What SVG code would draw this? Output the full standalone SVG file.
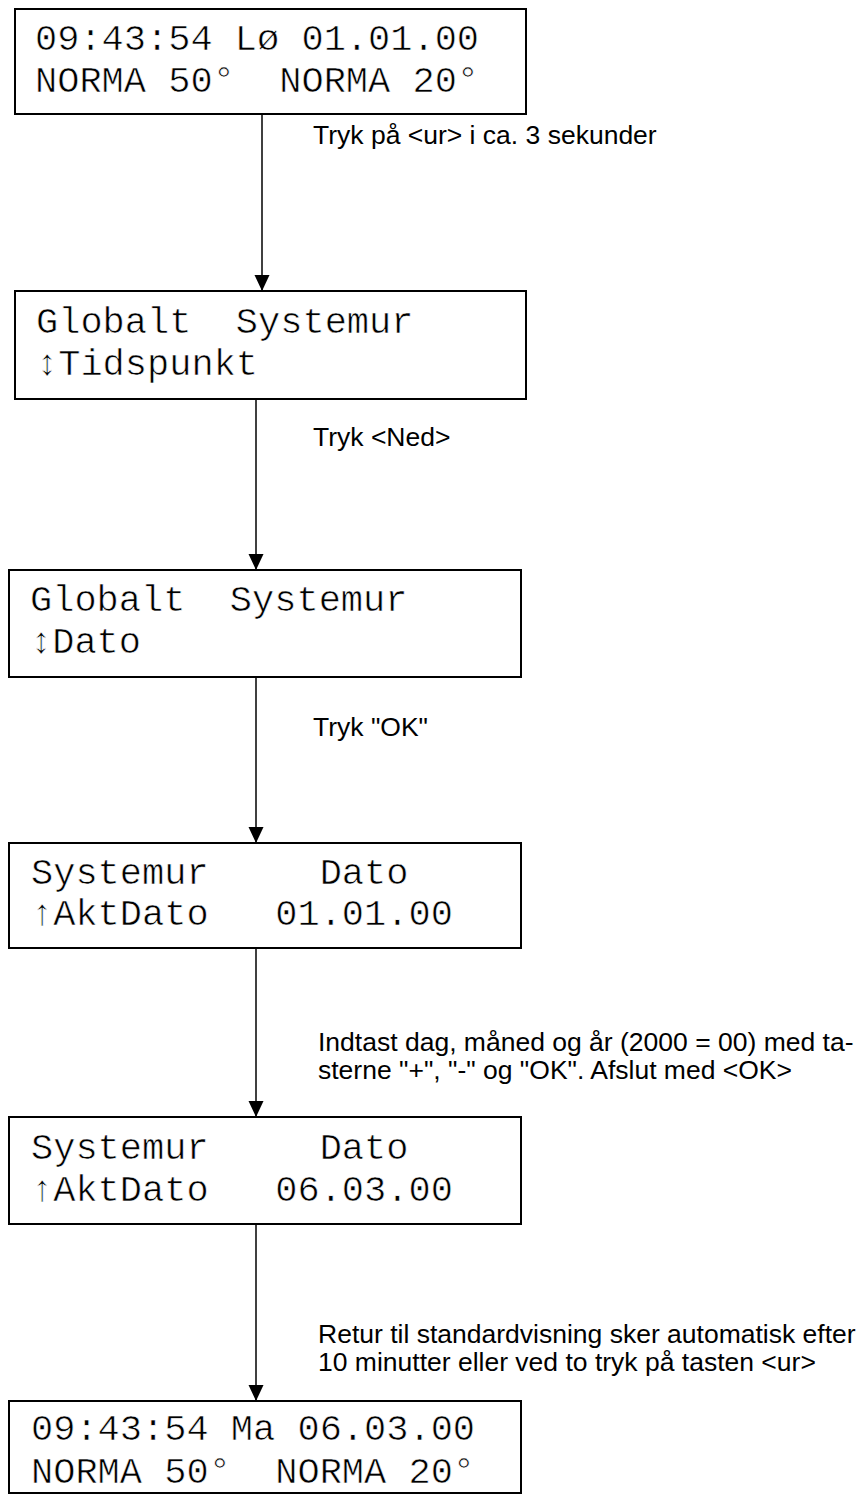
<svg xmlns="http://www.w3.org/2000/svg" width="868" height="1494" viewBox="0 0 868 1494">
  <style>
    .box { fill: #ffffff; stroke: #000000; stroke-width: 2; }
    .lcd { font-family: "Liberation Mono", "Courier New", monospace; font-size: 37px; fill: #000000; white-space: pre; stroke: #ffffff; stroke-width: 0.6; paint-order: fill; }
    .wire { stroke: #000000; stroke-width: 1.5; fill: none; }
    .note { font-family: "Liberation Sans", Arial, sans-serif; font-size: 26.5px; fill: #000000; }
  </style>
  <defs>
    <marker id="tip" viewBox="0 0 16 16" refX="16" refY="8" markerWidth="16" markerHeight="16" markerUnits="userSpaceOnUse" orient="auto">
      <path d="M0,0.5 L16,8 L0,15.5 Z" fill="#000000"/>
    </marker>
  </defs>
  <rect width="868" height="1494" fill="#ffffff"/>

  <!-- connectors and their captions -->
  <g id="connectors">
    <line class="wire" x1="262" y1="114" x2="262" y2="291" marker-end="url(#tip)"/>
    <line class="wire" x1="256" y1="399" x2="256" y2="570" marker-end="url(#tip)"/>
    <line class="wire" x1="256" y1="677" x2="256" y2="843" marker-end="url(#tip)"/>
    <line class="wire" x1="256" y1="948" x2="256" y2="1117" marker-end="url(#tip)"/>
    <line class="wire" x1="256" y1="1224" x2="256" y2="1401" marker-end="url(#tip)"/>
    <text class="note" x="313" y="144">Tryk på &lt;ur&gt; i ca. 3 sekunder</text>
    <text class="note" x="313" y="446">Tryk &lt;Ned&gt;</text>
    <text class="note" x="313" y="736">Tryk "OK"</text>
    <text class="note" x="318" y="1051"><tspan x="318">Indtast dag, måned og år (2000 = 00) med ta-</tspan><tspan x="318" dy="27.5">sterne "+", "-" og "OK". Afslut med &lt;OK&gt;</tspan></text>
    <text class="note" x="318" y="1343"><tspan x="318">Retur til standardvisning sker automatisk efter</tspan><tspan x="318" dy="27.5">10 minutter eller ved to tryk på tasten &lt;ur&gt;</tspan></text>
  </g>

  <!-- display states -->
  <g id="standard-start">
    <rect class="box" x="15" y="9" width="511" height="105"/>
    <text class="lcd" x="35" y="50">09:43:54 Lø 01.01.00</text>
    <text class="lcd" x="35" y="92">NORMA 50°  NORMA 20°</text>
  </g>

  <g id="systemur-tidspunkt">
    <rect class="box" x="15" y="291" width="511" height="108"/>
    <text class="lcd" x="36" y="333">Globalt  Systemur</text>
    <text class="lcd" x="36" y="375">↕Tidspunkt</text>
  </g>

  <g id="systemur-dato">
    <rect class="box" x="9" y="570" width="512" height="107"/>
    <text class="lcd" x="30" y="611">Globalt  Systemur</text>
    <text class="lcd" x="30" y="653">↕Dato</text>
  </g>

  <g id="aktdato-before">
    <rect class="box" x="9" y="843" width="512" height="105"/>
    <text class="lcd" x="31" y="884">Systemur     Dato</text>
    <text class="lcd" x="31" y="925">↑AktDato   01.01.00</text>
  </g>

  <g id="aktdato-after">
    <rect class="box" x="9" y="1117" width="512" height="107"/>
    <text class="lcd" x="31" y="1159">Systemur     Dato</text>
    <text class="lcd" x="31" y="1201">↑AktDato   06.03.00</text>
  </g>

  <g id="standard-end">
    <rect class="box" x="9" y="1401" width="512" height="92"/>
    <text class="lcd" x="31" y="1440">09:43:54 Ma 06.03.00</text>
    <text class="lcd" x="31" y="1483">NORMA 50°  NORMA 20°</text>
  </g>
</svg>
